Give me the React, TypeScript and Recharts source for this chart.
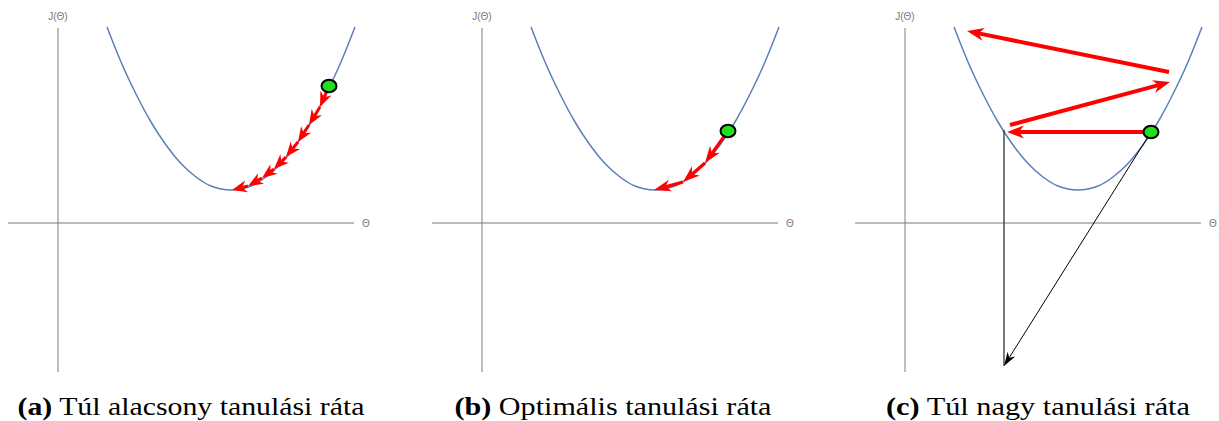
import React from "react";
import { ComposedChart, Line, XAxis, YAxis, ReferenceLine, ReferenceDot } from "recharts";

// cost curve J(theta) (same curve in all three panels)
const curveTheta = [4.9, 6.3, 7.8, 9.3, 10.8, 12.3, 13.8, 15.3, 17.3, 19.3, 20.8, 22.3, 23.8, 25.3, 26.8, 28.3, 29.7];
const curveJ = [19.6, 16.1, 12.9, 10.1, 7.8, 5.95, 4.6, 3.7, 3.3, 3.7, 4.6, 5.95, 7.8, 10.1, 12.9, 16.1, 19.6];

// gradient descent steps per panel [theta, J]
const stepsLow = [
  [27.1, 13.7], [26.2, 11.6], [25.1, 9.8], [24.0, 8.1], [22.8, 6.6],
  [21.6, 5.4], [20.4, 4.5], [19.0, 3.7], [17.4, 3.3],
];
const stepsOpt = [[24.6, 9.2], [22.3, 6.0], [20.1, 4.1], [17.2, 3.3]];
const stepsHigh = [[24.6, 9.1], [10.2, 9.1], [10.5, 9.8], [26.5, 14.1], [26.4, 15.1], [6.2, 19.2]];
// derivative construction in panel (c)
const tangentFrom = [24.6, 9.1];
const tangentTo = [9.9, -14.3];
const dropTop = [9.9, 9.3];

const captions = [
  { tag: "(a)", text: "Túl alacsony tanulási ráta" },
  { tag: "(b)", text: "Optimális tanulási ráta" },
  { tag: "(c)", text: "Túl nagy tanulási ráta" },
];

const curveData = curveTheta.map((t, i) => ({ t, j: curveJ[i] }));

const W = 420;
const H = 380;
const PANEL_LEFT = [0, 424, 847];
const CAPTION_X = [191, 613, 1038];
const CAPTION_W = [347, 317, 304];

const arrowShape = (color: string, sw: number, headLen: number, headW: number) => (props: any) => {
  const { x1, y1, x2, y2 } = props;
  const dx = x2 - x1;
  const dy = y2 - y1;
  const len = Math.hypot(dx, dy) || 1;
  const ux = dx / len;
  const uy = dy / len;
  const px = -uy;
  const py = ux;
  const bx = x2 - ux * headLen;
  const by = y2 - uy * headLen;
  const nx = x2 - ux * headLen * 0.7;
  const ny = y2 - uy * headLen * 0.7;
  const pts = [
    [x2, y2],
    [bx + (px * headW) / 2, by + (py * headW) / 2],
    [nx, ny],
    [bx - (px * headW) / 2, by - (py * headW) / 2],
  ]
    .map((p) => p.join(","))
    .join(" ");
  return (
    <g>
      <line x1={x1} y1={y1} x2={nx} y2={ny} stroke={color} strokeWidth={sw} />
      <polygon points={pts} fill={color} stroke="none" />
    </g>
  );
};

const plainLine = (color: string, sw: number) => (props: any) => (
  <line x1={props.x1} y1={props.y1} x2={props.x2} y2={props.y2} stroke={color} strokeWidth={sw} />
);

const dotShape = (props: any) => (
  <ellipse cx={props.cx} cy={props.cy} rx={7.5} ry={6.2} fill="#1fe01f" stroke="#000" strokeWidth={2} />
);

const labelShape = (text: string) => (props: any) => (
  <text x={props.cx} y={props.cy} textAnchor="middle" dominantBaseline="central" fontSize={10} fill="#777" fontFamily="Liberation Sans, Arial, sans-serif">
    {text}
  </text>
);

const toSegment = (a: number[], b: number[]) => [
  { x: a[0], y: a[1] },
  { x: b[0], y: b[1] },
];

function Panel({ idx }: { idx: number }) {
  const red = "#ff0000";
  let steps: JSX.Element[] = [];
  if (idx === 0) {
    steps = stepsLow.slice(1).map((p, i) => (
      <ReferenceLine key={i} segment={toSegment(stepsLow[i], p)} shape={arrowShape(red, 3, 15, 12)} ifOverflow="visible" />
    ));
  } else if (idx === 1) {
    steps = stepsOpt.slice(1).map((p, i) => (
      <ReferenceLine key={i} segment={toSegment(stepsOpt[i], p)} shape={arrowShape(red, 3.2, 17, 12)} ifOverflow="visible" />
    ));
  } else {
    for (let i = 0; i < stepsHigh.length; i += 2) {
      steps.push(
        <ReferenceLine key={i} segment={toSegment(stepsHigh[i], stepsHigh[i + 1])} shape={arrowShape(red, 4, 17, 13)} ifOverflow="visible" />
      );
    }
  }
  const start = idx === 0 ? stepsLow[0] : idx === 1 ? stepsOpt[0] : stepsHigh[0];
  return (
    <div style={{ position: "absolute", left: PANEL_LEFT[idx], top: 0 }}>
      <ComposedChart width={W} height={H} data={curveData} margin={{ top: 0, right: 0, bottom: 0, left: 0 }}>
        <XAxis dataKey="t" type="number" domain={[-5.8, 36.2]} allowDataOverflow scale="linear" hide />
        <YAxis type="number" domain={[-15.7, 22.3]} allowDataOverflow scale="linear" hide />
        <ReferenceLine segment={toSegment([0, 19.5], [0, -14.9])} shape={plainLine("#b0b0b0", 1.6)} ifOverflow="visible" />
        <ReferenceLine segment={toSegment([-5, 0], [29.6, 0])} shape={plainLine("#7a7a7a", 1.2)} ifOverflow="visible" />
        <ReferenceDot x={0} y={20.7} shape={labelShape("J(Θ)")} ifOverflow="visible" />
        <ReferenceDot x={30.8} y={-0.05} shape={labelShape("Θ")} ifOverflow="visible" />
        <Line dataKey="j" type="monotone" stroke="#5b7fb8" strokeWidth={1.5} dot={false} activeDot={false} isAnimationActive={false} />
        {idx === 2 && (
          <ReferenceLine segment={toSegment(dropTop, tangentTo)} shape={plainLine("#333", 1.3)} ifOverflow="visible" />
        )}
        {idx === 2 && (
          <ReferenceLine segment={toSegment(tangentFrom, tangentTo)} shape={arrowShape("#000", 1, 14, 9)} ifOverflow="visible" />
        )}
        {steps}
        <ReferenceDot x={start[0]} y={start[1]} shape={dotShape} ifOverflow="visible" />
      </ComposedChart>
    </div>
  );
}

export default function App() {
  return (
    <div style={{ position: "fixed", left: 0, top: 0, width: 1219, height: 421, background: "#fff" }}>
      {[0, 1, 2].map((i) => (
        <Panel key={i} idx={i} />
      ))}
      <svg width={1219} height={421} style={{ position: "absolute", left: 0, top: 0, pointerEvents: "none" }}>
        {captions.map((c, i) => (
          <text
            key={i}
            x={CAPTION_X[i] - CAPTION_W[i] / 2}
            y={415}
            textLength={CAPTION_W[i]}
            lengthAdjust="spacingAndGlyphs"
            fontSize={25}
            fill="#000"
            fontFamily="Liberation Serif, Times New Roman, serif"
          >
            <tspan fontWeight="bold">{c.tag}</tspan>
            <tspan> {c.text}</tspan>
          </text>
        ))}
      </svg>
    </div>
  );
}
